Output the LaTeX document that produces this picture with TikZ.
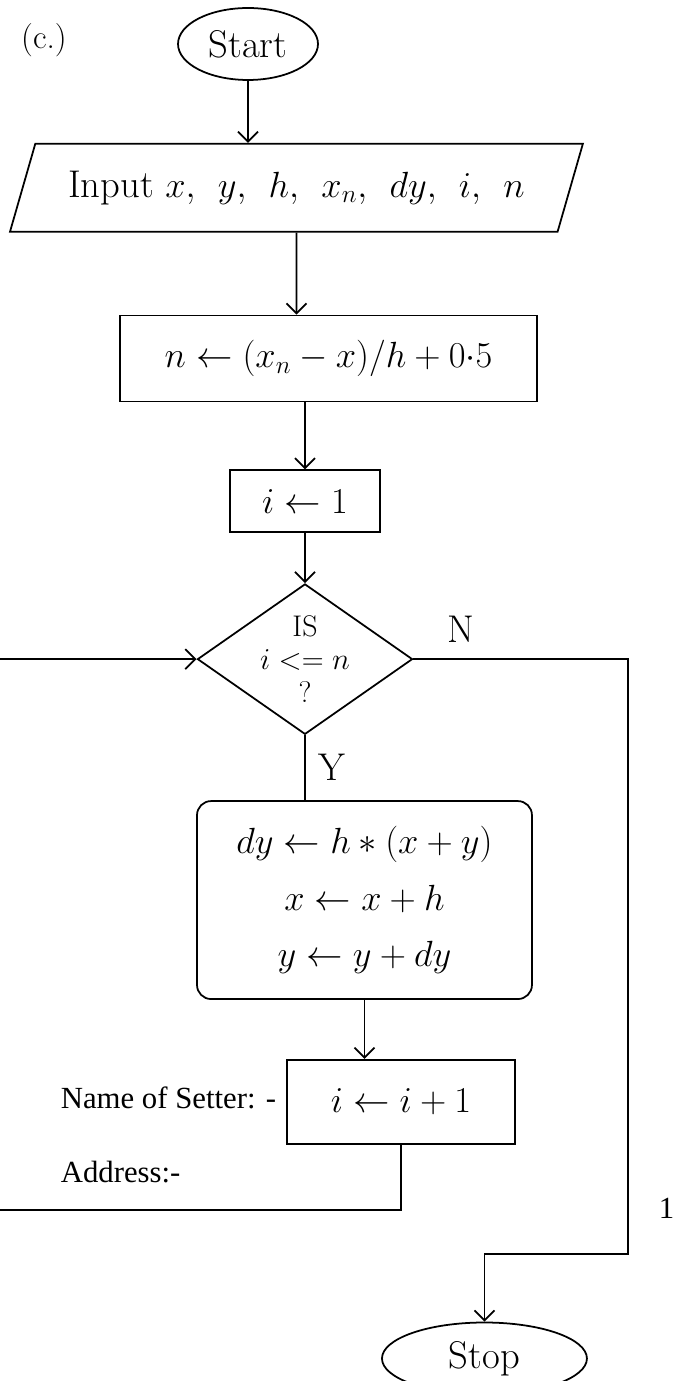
\documentclass[tikz,border=0pt]{standalone}
\usepackage{amsmath}
\usepackage{fontspec}
\usepackage{tikz}
\usetikzlibrary{positioning,arrows.meta,shapes.geometric}
\newfontfamily\printedfont{Liberation Serif}
\newcommand{\hand}{\fontsize{22}{32}\selectfont}
\newcommand{\printed}{\printedfont\fontsize{17.5}{21}\selectfont}
\newcommand{\gap}{,\;\,}

\begin{document}
\begin{tikzpicture}[
  x=0.02cm, y=-0.02cm,
  line width=1pt,
  box/.style={draw, align=center, font=\hand, inner sep=3pt},
  term/.style={draw, ellipse, font=\hand, minimum height=1.44cm},
  io/.style={draw, trapezium, trapezium left angle=61, trapezium right angle=119, trapezium stretches body, font=\hand, minimum height=1.76cm},
  decision/.style={draw, diamond, aspect=1.43, align=center, inner sep=0pt, font=\fontsize{17}{19}\selectfont},
  lbl/.style={font=\hand, inner sep=1pt},
  arr/.style={-{Straight Barb[length=2mm,width=4mm]}},
  note/.style={font=\printed, anchor=west, inner sep=0pt}
]
\useasboundingbox (0,0) rectangle (675,1381);
\node[term, minimum width=2.8cm] (start) at (248,44) {Start};
\node[io, minimum width=11.46cm, below=1.24cm of start, xshift=0.97cm] (input) {Input $x\gap y\gap h\gap x_n\gap dy\gap i\gap n$};
\node[box, minimum width=8.34cm, minimum height=1.72cm, below=1.64cm of input, xshift=0.64cm] (calc) {$n \leftarrow (x_n - x)/h + 0{\cdot}5$};
\node[box, minimum width=3cm, minimum height=1.24cm, below=1.34cm of calc, xshift=-0.47cm] (init) {$i \leftarrow 1$};
\node[decision, minimum width=4.22cm, minimum height=2.96cm, below=1cm of init] (test) {IS\\$i<=n$\\?};
\node[box, rounded corners=8pt, minimum width=6.7cm, minimum height=3.96cm, below=1.3cm of test, xshift=1.19cm] (body) {$dy \leftarrow h \ast (x+y)$\\$x \leftarrow x+h$\\$y \leftarrow y+dy$};
\node[box, minimum width=4.56cm, minimum height=1.68cm, below=1.18cm of body, xshift=0.73cm] (incr) {$i \leftarrow i+1$};
\node[term, minimum width=4.1cm, below=3.54cm of incr, xshift=1.67cm] (stop) {Stop};
% printed form text
\node[note] (setter) at (60,1098) {Name of Setter: -};
\node[note] (address) at (60,1172) {Address:-};
\node[note] (pagenum) at (658,1208) {1};
\node[lbl, font=\fontsize{19}{22}\selectfont] (part) at (44,40) {(c.)};
\coordinate (nturn) at (test.east -| 628,0);
\coordinate (njoin) at (628,1254);
\coordinate (loopout) at (0,1210);
\coordinate (loopin) at (test.west -| 0,0);
\draw[arr] (start) -- (start |- input.north);
\draw[arr] (input) -- (input |- calc.north);
\draw[arr] (init |- calc.south) -- (init);
\draw[arr] (init) -- (test);
\draw (test) -- (test |- body.north) node[lbl, midway, right=6pt] (ylbl) {Y};
\draw[arr] (body) -- (body |- incr.north);
\draw[arr] (test) -- (nturn) node[lbl, pos=0.22, above=8pt] (nlbl) {N} -- (njoin) -| (stop);
\draw (incr) |- (loopout);
\draw[arr] (loopin) -- (test);
\end{tikzpicture}
\end{document}
